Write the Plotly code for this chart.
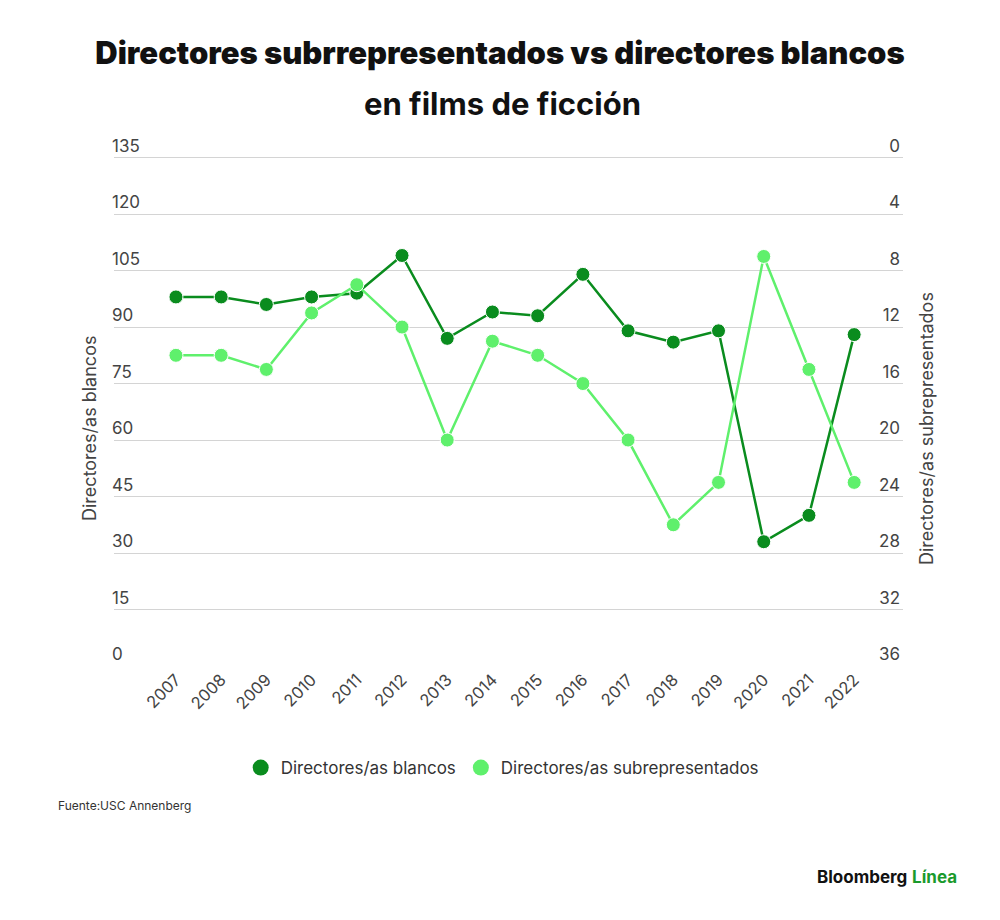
import plotly.graph_objects as go

years = list(range(2007, 2023))
blancos = [98, 98, 96, 98, 99, 109, 87, 94, 93, 104, 89, 86, 89, 33, 40, 88]
subrep = [14, 14, 15, 11, 9, 12, 20, 13, 14, 16, 20, 26, 23, 7, 15, 23]

dark = "#0a8c1e"
light = "#5ff06c"
font = "Inter"

fig = go.Figure()
fig.add_trace(go.Scatter(
    x=years, y=blancos, name="Directores/as blancos", mode="lines+markers",
    line=dict(color=dark, width=2.5), showlegend=False,
    marker=dict(size=14, color=dark, line=dict(color="white", width=1)),
))
fig.add_trace(go.Scatter(
    x=years, y=subrep, name="Directores/as subrepresentados", mode="lines+markers",
    yaxis="y2", showlegend=False,
    line=dict(color=light, width=2.5),
    marker=dict(size=14, color=light, line=dict(color="white", width=1)),
))
# legend entries: plain big dots like the original
fig.add_trace(go.Scatter(x=[None], y=[None], mode="markers", name="Directores/as blancos",
                         marker=dict(size=22, color=dark)))
fig.add_trace(go.Scatter(x=[None], y=[None], mode="markers", name="Directores/as subrepresentados",
                         marker=dict(size=22, color=light)))

ph = 531  # plot height in px
fig.update_layout(
    width=1000, height=920,
    paper_bgcolor="white", plot_bgcolor="white",
    margin=dict(l=106, r=105, t=127, b=262, autoexpand=False),
    font=dict(family=font, color="#444"),
    title=dict(
        text="Directores subrrepresentados vs directores blancos",
        x=0.492, xanchor="center", yref="container", y=1 - 45 / 920, yanchor="middle",
        font=dict(family=font, size=31, color="#111", weight=900),
    ),
    xaxis=dict(
        range=[2005.63, 2023.08], tickvals=years, tickangle=-45,
        showgrid=False, zeroline=False, showline=False,
        tickfont=dict(size=16.5, color="#444"),
    ),
    yaxis=dict(
        range=[0, 141], tickvals=list(range(0, 136, 15)),
        showgrid=True, gridcolor="#d4d4d4", gridwidth=1, zeroline=False,
        ticklabelposition="inside top", ticklabelstandoff=-5,
        tickfont=dict(size=17, color="#444"),
    ),
    yaxis2=dict(
        range=[36, -1.6], tickvals=list(range(0, 37, 4)), overlaying="y", side="right",
        showgrid=False, zeroline=False,
        ticklabelposition="inside top",
        tickfont=dict(size=17, color="#444"),
    ),
    legend=dict(
        orientation="h", x=0.492, xanchor="center", yref="container", y=1 - 760 / 920,
        yanchor="middle", font=dict(size=17, color="#333"),
    ),
    annotations=[
        dict(text="<b>en films de ficción</b>", xref="paper", yref="paper",
             x=0.492, y=(658 - 95) / ph, xanchor="center", yanchor="middle", showarrow=False,
             font=dict(family=font, size=31, color="#111", weight=900)),
        dict(text="Directores/as blancos", xref="paper", yref="paper", textangle=-90,
             x=(81 - 106) / 789, y=(658 - 421) / ph, xanchor="center", yanchor="middle",
             showarrow=False, font=dict(size=18, color="#444")),
        dict(text="Directores/as subrepresentados", xref="paper", yref="paper", textangle=-90,
             x=(918 - 106) / 789, y=(658 - 421) / ph, xanchor="center", yanchor="middle",
             showarrow=False, font=dict(size=18, color="#444")),
        dict(text="Fuente:USC Annenberg", xref="paper", yref="paper",
             x=(48 - 106) / 789, y=(658 - 797) / ph, xanchor="left", yanchor="middle",
             showarrow=False, font=dict(size=12, color="#333")),
        dict(text="<b>Bloomberg</b> <b><span style='color:#1a9a2c'>Línea</span></b>",
             xref="paper", yref="paper", x=(951 - 106) / 789, y=(658 - 869) / ph,
             xanchor="right", yanchor="middle", showarrow=False,
             font=dict(size=17, color="#111")),
    ],
)

fig.write_html("out.html")
